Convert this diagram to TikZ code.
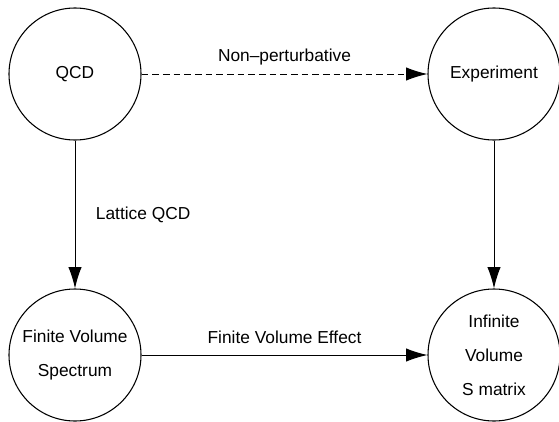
\documentclass[tikz,border=0pt]{standalone}
\usepackage{fontspec}
\setmainfont{Liberation Sans}
\usetikzlibrary{arrows.meta}
\begin{document}
\begin{tikzpicture}[x=0.75pt, y=-0.75pt, every node/.style={font=\fontsize{13}{25.5}\selectfont},
  stage/.style={draw,circle,line width=0.8pt,minimum size=99pt,inner sep=0pt,align=center},
  flow/.style={line width=0.75pt,-{Latex[length=16pt,width=10pt]}}]
\useasboundingbox (0,0) rectangle (559,421);
\node[stage] (qcd) at (75,74) {QCD};
\node[stage] (exp) at (494,74) {Experiment};
\node[stage] (fvs) at (75,355) {Finite Volume\\Spectrum};
\node[stage] (ivs) at (494,355) {Infinite\\Volume\\S matrix};
\draw[flow,dash pattern=on 5pt off 3pt] (qcd) -- (exp) node[midway,yshift=13pt] {Non--perturbative};
\draw[flow] (qcd) -- (fvs) node[midway,right=12pt] {Lattice QCD};
\draw[flow] (exp) -- (ivs);
\draw[flow] (fvs) -- (ivs) node[midway,yshift=13pt] {Finite Volume Effect};
\end{tikzpicture}
\end{document}
